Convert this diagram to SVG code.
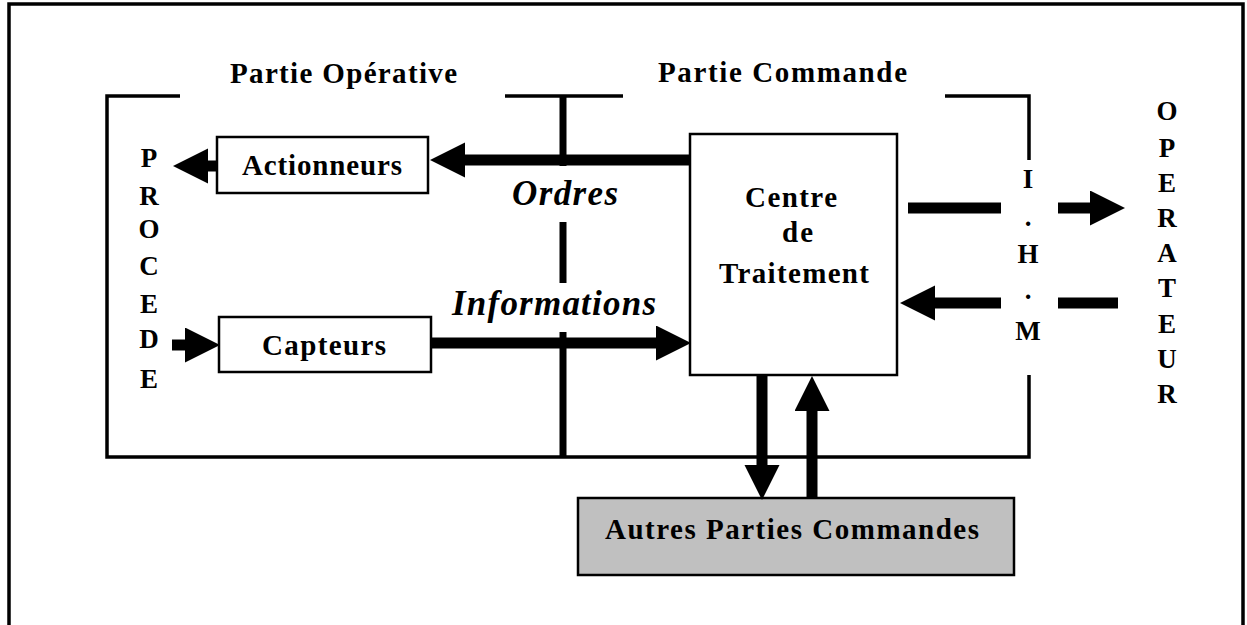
<svg xmlns="http://www.w3.org/2000/svg" width="1247" height="625" viewBox="0 0 1247 625">
<style>
.frame{fill:none;stroke:#000;stroke-width:3.5}
.sep{fill:none;stroke:#000;stroke-width:7}
.box{fill:#fff;stroke:#000;stroke-width:2.5}
.grey{fill:#c0c0c0;stroke:#000;stroke-width:2.5}
.shaft{fill:none;stroke:#000;stroke-width:11}
.tl{font-family:"Liberation Serif","Times New Roman",serif;font-weight:bold;fill:#000;font-size:29px}
.it{font-family:"Liberation Serif","Times New Roman",serif;font-weight:bold;font-style:italic;fill:#000;font-size:35px}
.v{font-family:"Liberation Serif","Times New Roman",serif;font-weight:bold;fill:#000;text-anchor:middle;font-size:27px}
.op{font-family:"Liberation Serif","Times New Roman",serif;font-weight:bold;fill:#000;text-anchor:middle;font-size:27px}
</style>
<defs>
<marker id="ah" markerUnits="userSpaceOnUse" markerWidth="36" markerHeight="36" refX="0" refY="17.5" orient="auto">
<path d="M0,0 L35,17.5 L0,35 z" fill="#000"/>
</marker>
</defs>
<rect width="1247" height="625" fill="#fff"/>
<g id="outer-frame">
<path class="frame" d="M9,625 V4 H1243 V625"/>
</g>
<g id="inner-frame">
<path class="frame" d="M180,96 H107 V457 H1029 V375"/>
<path class="frame" d="M1029,160 V96 H945"/>
<path class="frame" d="M505,96 H623"/>
<path class="sep" d="M563,96 V166 M563,222 V283 M563,332 V457"/>
<text class="tl" x="230" y="83" textLength="227" lengthAdjust="spacing">Partie Opérative</text>
<text class="tl" x="658" y="82" textLength="249" lengthAdjust="spacing">Partie Commande</text>
</g>
<g id="procede">
<text class="v" x="149" y="167">P</text>
<text class="v" x="149" y="205">R</text>
<text class="v" x="149" y="238">O</text>
<text class="v" x="149" y="275">C</text>
<text class="v" x="149" y="313">E</text>
<text class="v" x="149" y="348">D</text>
<text class="v" x="149" y="388">E</text>
</g>
<g id="actionneurs">
<rect class="box" x="217" y="137" width="211" height="56"/>
<text class="tl" x="242" y="175" textLength="160" lengthAdjust="spacing">Actionneurs</text>
</g>
<g id="capteurs">
<rect class="box" x="219" y="317" width="212" height="55"/>
<text class="tl" x="262" y="355" textLength="124" lengthAdjust="spacing">Capteurs</text>
</g>
<g id="centre">
<rect class="box" x="690" y="134" width="207" height="241"/>
<text class="tl" x="745" y="207" textLength="92" lengthAdjust="spacing">Centre</text>
<text class="tl" x="782" y="242" textLength="31" lengthAdjust="spacing">de</text>
<text class="tl" x="719" y="283" textLength="150" lengthAdjust="spacing">Traitement</text>
</g>
<g id="autres">
<rect class="grey" x="578" y="498" width="436" height="77"/>
<text class="tl" x="605" y="539" textLength="374" lengthAdjust="spacing">Autres Parties Commandes</text>
</g>
<g id="ihm">
<text class="v" x="1028" y="188">I</text>
<text class="v" x="1028" y="226">.</text>
<text class="v" x="1028" y="263">H</text>
<text class="v" x="1028" y="299">.</text>
<text class="v" x="1028" y="340">M</text>
</g>
<g id="operateur">
<text class="op" x="1167" y="120">O</text>
<text class="op" x="1167" y="157">P</text>
<text class="op" x="1167" y="192">E</text>
<text class="op" x="1167" y="227">R</text>
<text class="op" x="1167" y="262">A</text>
<text class="op" x="1167" y="297">T</text>
<text class="op" x="1167" y="333">E</text>
<text class="op" x="1167" y="368">U</text>
<text class="op" x="1167" y="403">R</text>
</g>
<g id="connectors">
<path class="shaft" d="M690,160 H465" marker-end="url(#ah)"/>
<path class="shaft" d="M217,166 H208" marker-end="url(#ah)"/>
<path class="shaft" d="M172,345 H185" marker-end="url(#ah)"/>
<path class="shaft" d="M431,343 H656" marker-end="url(#ah)"/>
<path class="shaft" d="M908,208 H1001"/>
<path class="shaft" d="M1058,208 H1090" marker-end="url(#ah)"/>
<path class="shaft" d="M1118,303 H1058"/>
<path class="shaft" d="M1001,303 H935" marker-end="url(#ah)"/>
<path class="shaft" d="M762,375 V465" marker-end="url(#ah)"/>
<path class="shaft" d="M812,498 V411" marker-end="url(#ah)"/>
<text class="it" x="512" y="205" textLength="106" lengthAdjust="spacing">Ordres</text>
<text class="it" x="452" y="315" textLength="204" lengthAdjust="spacing">Informations</text>
</g>
</svg>
